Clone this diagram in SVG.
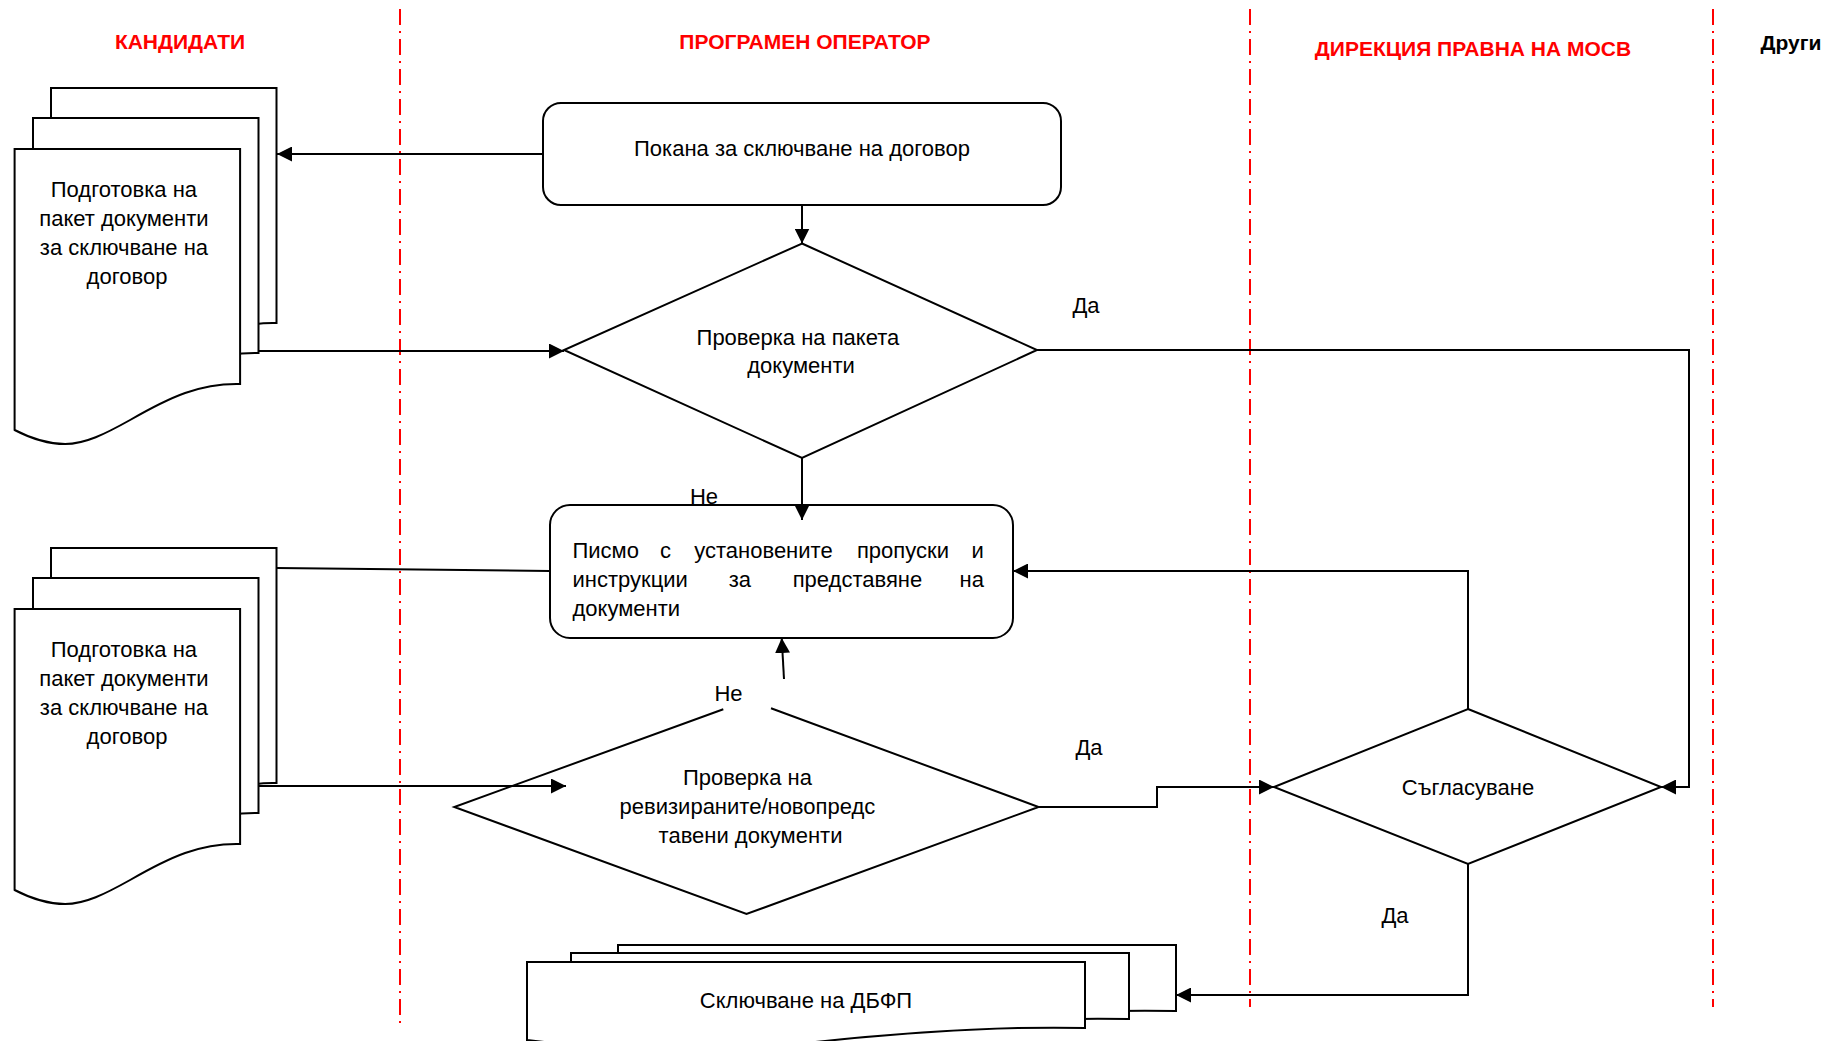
<svg xmlns="http://www.w3.org/2000/svg" width="1836" height="1041" viewBox="0 0 1836 1041">
  <style>
    .lane { stroke: #FF0000; stroke-width: 2; stroke-dasharray: 16 6 2 6; fill: none; }
    .head { font-family: "Liberation Sans", Arial, sans-serif; font-weight: bold; font-size: 21px; fill: #FF0000; text-anchor: middle; }
    .shape { fill: #FFFFFF; stroke: #000000; stroke-width: 2; }
    .lbl { font-family: "Liberation Sans", Arial, sans-serif; font-size: 22px; fill: #000000; text-anchor: middle; }
    .conn { fill: none; stroke: #000000; stroke-width: 2; }
    .arrow { marker-end: url(#arr); }
  </style>
  <defs>
    <marker id="arr" viewBox="0 0 15 15" refX="15" refY="7.5" markerWidth="15" markerHeight="15" markerUnits="userSpaceOnUse" orient="auto">
      <path d="M0,0 L15,7.5 L0,15 Z" fill="#000000"/>
    </marker>
    <!-- tall document page with wavy bottom -->
    <path id="docTall" d="M0,0 H225.5 V235 C185.5,234 155.5,248 115.5,271 C90.5,285 70.5,295 50.5,295 C30.5,295 13.5,288 0,281 Z"/>
    <!-- wide document page with wavy bottom -->
    <path id="docWide" d="M0,0 H558 V66 C470,64 360,72 270,82 C180,90 80,88 0,78 Z"/>
  </defs>

  <rect x="0" y="0" width="1836" height="1041" fill="#FFFFFF"/>

  <!-- swimlane separators -->
  <g id="lanes">
    <line class="lane" x1="400" y1="9" x2="400" y2="1023"/>
    <line class="lane" x1="1250" y1="9" x2="1250" y2="1007"/>
    <line class="lane" x1="1713" y1="9" x2="1713" y2="1007"/>
    <text class="head" x="180" y="49">КАНДИДАТИ</text>
    <text class="head" x="805" y="49">ПРОГРАМЕН ОПЕРАТОР</text>
    <text class="head" x="1473" y="56">ДИРЕКЦИЯ ПРАВНА НА МОСВ</text>
    <text class="head" x="1791" y="50" style="fill:#000000">Други</text>
  </g>

  <!-- candidates: first document package -->
  <g id="docs-prepare-1">
    <use href="#docTall" class="shape" x="51" y="88"/>
    <use href="#docTall" class="shape" x="33" y="118"/>
    <use href="#docTall" class="shape" x="14.6" y="149"/>
    <text class="lbl" x="127">
      <tspan x="127" y="197">Подготовка на</tspan>
      <tspan x="127" y="226">пакет документи</tspan>
      <tspan x="127" y="255">за сключване на</tspan>
      <tspan x="127" y="284">договор</tspan>
    </text>
  </g>

  <!-- candidates: revised document package -->
  <g id="docs-prepare-2">
    <use href="#docTall" class="shape" x="51" y="548"/>
    <use href="#docTall" class="shape" x="33" y="578"/>
    <use href="#docTall" class="shape" x="14.6" y="609"/>
    <text class="lbl" x="127">
      <tspan x="127" y="657">Подготовка на</tspan>
      <tspan x="127" y="686">пакет документи</tspan>
      <tspan x="127" y="715">за сключване на</tspan>
      <tspan x="127" y="744">договор</tspan>
    </text>
  </g>

  <g id="invitation">
    <rect class="shape" x="543" y="103" width="518" height="102" rx="18" ry="18"/>
    <text class="lbl" x="802" y="156">Покана за сключване на договор</text>
  </g>

  <g id="check-package">
    <path class="shape" d="M802,243.5 L1037,350 L802,458 L564,350 Z"/>
    <text class="lbl">
      <tspan x="801" y="345">Проверка на пакета</tspan>
      <tspan x="801" y="373">документи</tspan>
    </text>
  </g>

  <g id="letter">
    <rect class="shape" x="550" y="505" width="463" height="133" rx="20" ry="20"/>
    <text class="lbl">
      <tspan x="572.5" y="558" text-anchor="start">Писмо</tspan>
      <tspan x="668.5" y="558">с</tspan>
      <tspan x="766.5" y="558">установените</tspan>
      <tspan x="906" y="558">пропуски</tspan>
      <tspan x="990" y="558" text-anchor="end">и</tspan>
      <tspan x="572.5" y="587" text-anchor="start">инструкции</tspan>
      <tspan x="743" y="587">за</tspan>
      <tspan x="860.5" y="587">представяне</tspan>
      <tspan x="990" y="587" text-anchor="end">на</tspan>
      <tspan x="572.5" y="616" text-anchor="start">документи</tspan>
    </text>
  </g>

  <g id="check-revised">
    <path class="shape" d="M723.3,709.3 L454.3,807 L746.5,914 L1038.6,807 L771,708.3"/>
    <text class="lbl">
      <tspan x="750.5" y="785">Проверка на</tspan>
      <tspan x="750.5" y="814">ревизираните/новопредс</tspan>
      <tspan x="750.5" y="843">тавени документи</tspan>
    </text>
  </g>

  <g id="approval">
    <path class="shape" d="M1468,709 L1661,787 L1468,864 L1274,787 Z"/>
    <text class="lbl" x="1468" y="795">Съгласуване</text>
  </g>

  <g id="contract">
    <use href="#docWide" class="shape" x="618" y="945"/>
    <use href="#docWide" class="shape" x="571" y="953"/>
    <use href="#docWide" class="shape" x="527" y="962"/>
    <text class="lbl" x="806" y="1008">Сключване на ДБФП</text>
  </g>

  <!-- connectors, drawn over the shapes -->
  <g id="connectors">
    <path class="conn arrow" d="M543,154 H277"/>
    <path class="conn arrow" d="M802,205 V243.5"/>
    <path class="conn arrow" d="M258,351 H564"/>
    <path class="conn arrow" d="M802,458 V520"/>
    <path class="conn arrow" d="M1037,350 H1689 V787 H1661"/>
    <path class="conn" d="M277,568 L550,571"/>
    <path class="conn arrow" d="M258,786 H566"/>
    <path class="conn arrow" d="M784,679 L781.7,638"/>
    <path class="conn arrow" d="M1038.6,807 H1157 V787 H1274"/>
    <path class="conn arrow" d="M1468,709 V571 H1013"/>
    <path class="conn arrow" d="M1468,864 V995 H1176"/>
    <text class="lbl" x="1086" y="313">Да</text>
    <text class="lbl" x="704" y="504">Не</text>
    <text class="lbl" x="728.5" y="701">Не</text>
    <text class="lbl" x="1089" y="755">Да</text>
    <text class="lbl" x="1395" y="923">Да</text>
  </g>
</svg>
